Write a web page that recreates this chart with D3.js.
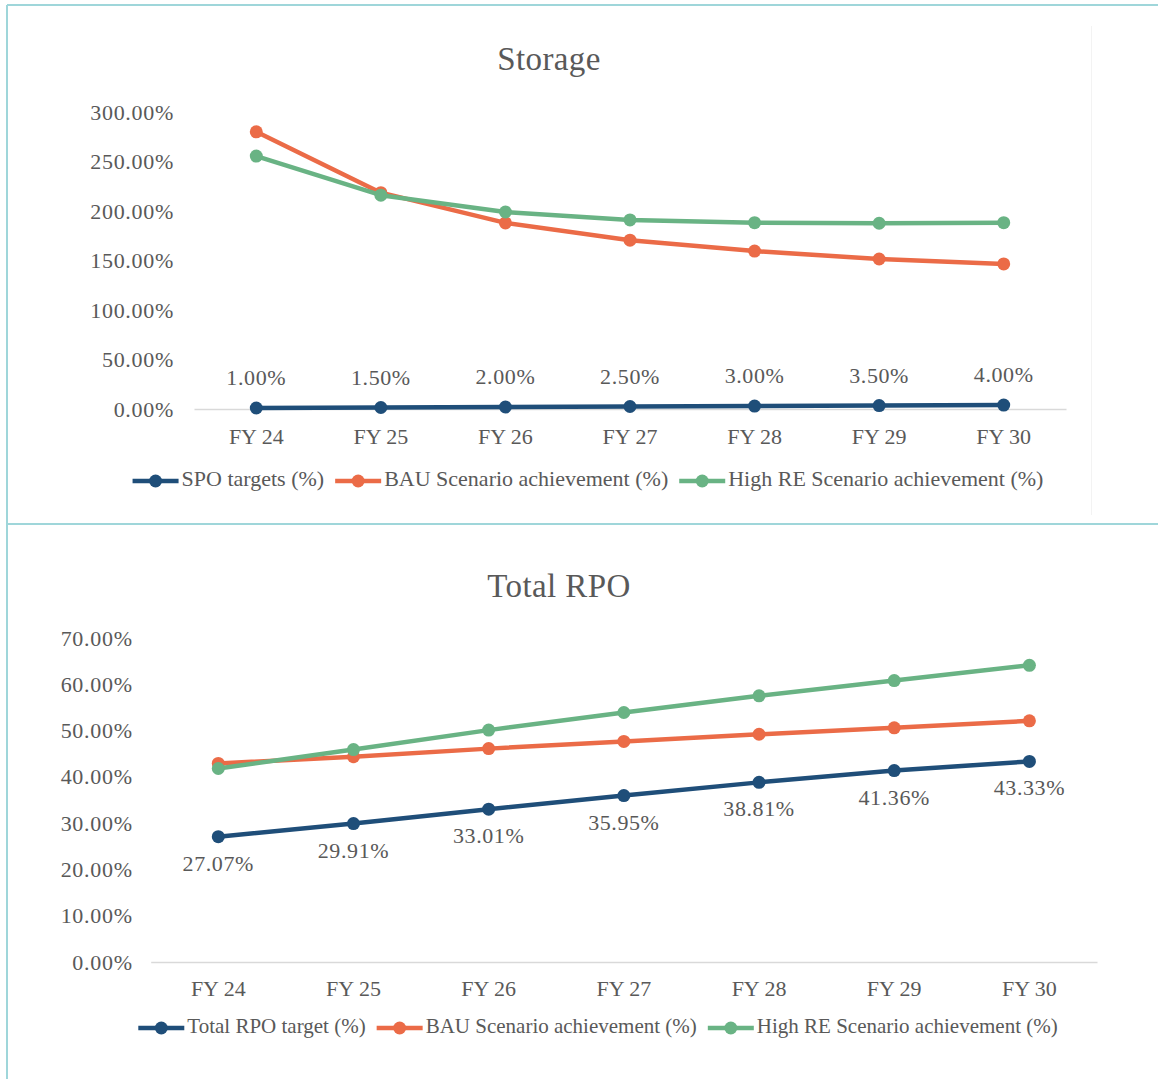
<!DOCTYPE html>
<html>
<head>
<meta charset="utf-8">
<script src="https://cdn.jsdelivr.net/npm/d3@7"></script>
<style>
  body { margin: 0; background: #fff; }
  svg text { font-family: "Liberation Serif", serif; fill: #595959; }
</style>
</head>
<body>
<svg width="1158" height="1079"></svg>
<script>
// categories shared by both charts
const years = ["FY 24", "FY 25", "FY 26", "FY 27", "FY 28", "FY 29", "FY 30"];

// Storage chart (fractions, 1 = 100%)
const spoTargets = [0.01, 0.015, 0.02, 0.025, 0.03, 0.035, 0.04];
const storageBau = [2.80, 2.185, 1.88, 1.705, 1.595, 1.515, 1.465];
const storageHighRe = [2.555, 2.16, 1.99, 1.91, 1.882, 1.876, 1.882];
const storageTicks = [0, 0.5, 1, 1.5, 2, 2.5, 3];

// Total RPO chart
const rpoTargets = [0.2707, 0.2991, 0.3301, 0.3595, 0.3881, 0.4136, 0.4333];
const rpoBau = [0.429, 0.4435, 0.461, 0.4765, 0.492, 0.506, 0.521];
const rpoHighRe = [0.418, 0.459, 0.501, 0.539, 0.575, 0.608, 0.641];
const rpoTicks = [0, 0.1, 0.2, 0.3, 0.4, 0.5, 0.6, 0.7];

const BLUE = "#1f4e79", ORANGE = "#eb6b47", GREEN = "#69b384";
const fmt = d3.format(".2%");

const svg = d3.select("svg");

// panel borders
svg.append("line").attr("x1", 7).attr("x2", 1158).attr("y1", 5).attr("y2", 5)
  .attr("stroke", "#9fd6da").attr("stroke-width", 2);
svg.append("line").attr("x1", 7).attr("x2", 7).attr("y1", 5).attr("y2", 1079)
  .attr("stroke", "#9fd6da").attr("stroke-width", 2);
svg.append("line").attr("x1", 7).attr("x2", 1158).attr("y1", 524).attr("y2", 524)
  .attr("stroke", "#9fd6da").attr("stroke-width", 2);
svg.append("line").attr("x1", 1091.5).attr("x2", 1091.5).attr("y1", 26).attr("y2", 515)
  .attr("stroke", "#f3f3f3").attr("stroke-width", 1);

function drawChart(cfg) {
  const g = svg.append("g");
  const x = d3.scaleBand().domain(years).range(cfg.xRange);
  const y = d3.scaleLinear().domain(cfg.yDomain).range(cfg.yRange);
  const cx = d => x(d) + x.bandwidth() / 2;

  g.append("text").attr("x", cfg.titleX).attr("y", cfg.titleY)
    .attr("text-anchor", "middle").attr("dominant-baseline", "middle")
    .style("font-size", "33px").attr("letter-spacing", "0.4px").text(cfg.title);

  // y axis labels (no line, no ticks)
  const yAxis = g.append("g").attr("transform", `translate(${cfg.xRange[0]},0)`)
    .call(d3.axisLeft(y).tickValues(cfg.ticks).tickFormat(fmt).tickSize(0).tickPadding(cfg.yPad));
  yAxis.select(".domain").remove();
  yAxis.selectAll("text").style("font-size", "22px").attr("fill", "#595959")
    .style("font-family", "Liberation Serif, serif").attr("letter-spacing", "0.7px");

  // x axis with light baseline
  const xAxis = g.append("g").attr("transform", `translate(0,${cfg.yRange[0]})`)
    .call(d3.axisBottom(x).tickSize(0).tickPadding(cfg.xPad));
  xAxis.select(".domain").attr("stroke", "#d9d9d9").attr("stroke-width", 1.5);
  xAxis.selectAll("text").style("font-size", "22px").attr("fill", "#595959")
    .style("font-family", "Liberation Serif, serif");

  const line = d3.line().x((d, i) => cx(years[i])).y(d => y(d));
  cfg.series.forEach(s => {
    g.append("path").datum(s.values).attr("d", line)
      .attr("fill", "none").attr("stroke", s.color).attr("stroke-width", 4.5)
      .attr("stroke-linejoin", "round");
    g.selectAll(null).data(s.values).enter().append("circle")
      .attr("cx", (d, i) => cx(years[i])).attr("cy", d => y(d)).attr("r", 6.5)
      .attr("fill", s.color);
  });

  // data labels for the target series
  const tgt = cfg.series[0];
  g.selectAll(null).data(tgt.values).enter().append("text")
    .attr("x", (d, i) => cx(years[i])).attr("y", d => y(d) + cfg.labelDy)
    .attr("text-anchor", "middle").attr("dominant-baseline", "middle")
    .style("font-size", "22px").attr("letter-spacing", "0.6px").text(d => fmt(d));

  // legend
  const lg = g.append("g");
  const items = lg.selectAll("g").data(cfg.series).enter().append("g");
  items.append("line").attr("x1", 0).attr("x2", 46).attr("y1", 0).attr("y2", 0)
    .attr("stroke", d => d.color).attr("stroke-width", 4.5);
  items.append("circle").attr("cx", 23).attr("cy", 0).attr("r", 6.5).attr("fill", d => d.color);
  items.append("text").attr("x", 49).attr("y", 0).attr("dominant-baseline", "middle")
    .style("font-size", cfg.legendSize).text(d => d.name);
  let pos = 0;
  items.each(function() {
    d3.select(this).attr("transform", `translate(${pos},0)`);
    pos += 49 + d3.select(this).select("text").node().getComputedTextLength() + 11;
  });
  pos -= 11;
  lg.attr("transform", `translate(${cfg.legendCx - pos / 2},${cfg.legendY})`);
}

drawChart({
  title: "Storage", titleX: 549, titleY: 62,
  xRange: [194, 1066], yDomain: [0, 3], yRange: [409, 112],
  ticks: storageTicks, yPad: 20, xPad: 19, labelDy: -28,
  legendCx: 588, legendY: 481, legendSize: "22px",
  series: [
    { name: "SPO targets (%)", color: BLUE, values: spoTargets },
    { name: "BAU Scenario achievement (%)", color: ORANGE, values: storageBau },
    { name: "High RE Scenario achievement (%)", color: GREEN, values: storageHighRe }
  ]
});

drawChart({
  title: "Total RPO", titleX: 559, titleY: 589,
  xRange: [150.7, 1097], yDomain: [0, 0.7], yRange: [962, 638],
  ticks: rpoTicks, yPad: 18, xPad: 18, labelDy: 29,
  legendCx: 598, legendY: 1028, legendSize: "21px",
  series: [
    { name: "Total RPO target (%)", color: BLUE, values: rpoTargets },
    { name: "BAU Scenario achievement (%)", color: ORANGE, values: rpoBau },
    { name: "High RE Scenario achievement (%)", color: GREEN, values: rpoHighRe }
  ]
});
</script>
</body>
</html>
